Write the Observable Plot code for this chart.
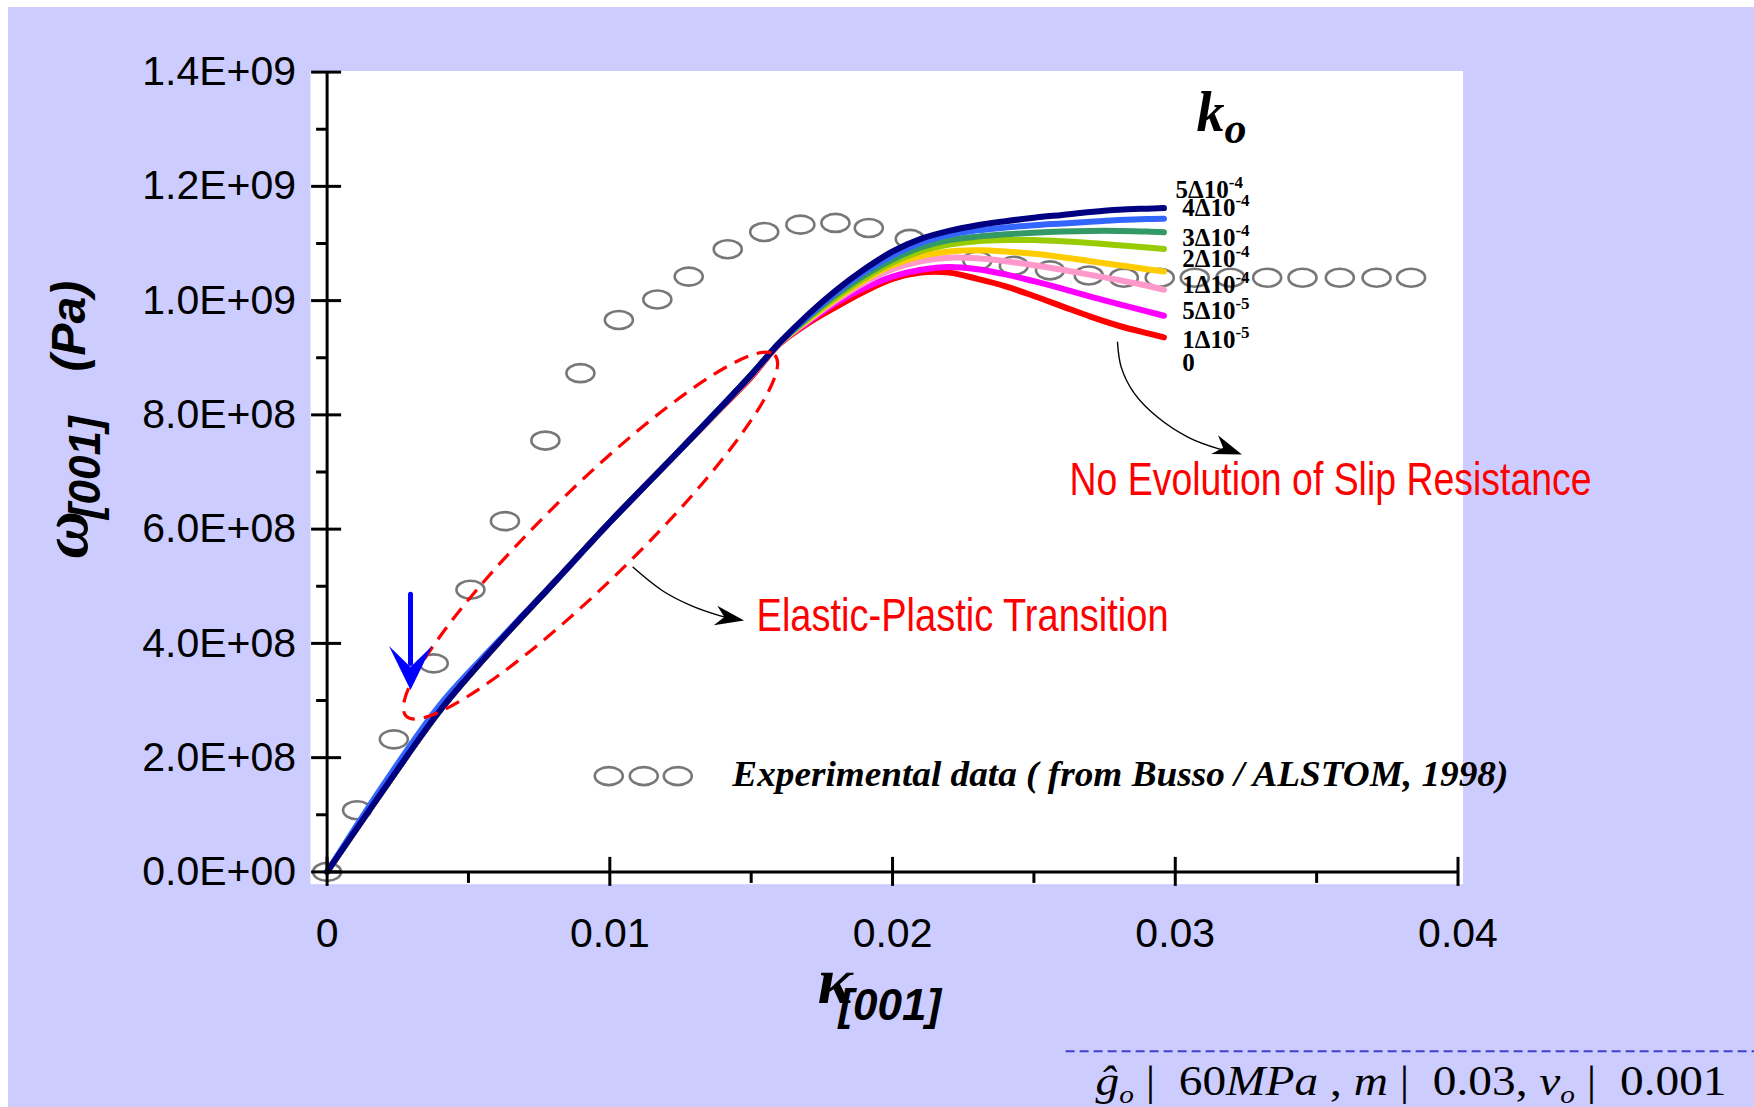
<!DOCTYPE html>
<html><head><meta charset="utf-8">
<script src="https://cdn.jsdelivr.net/npm/d3@7"></script>
<script src="https://cdn.jsdelivr.net/npm/@observablehq/plot@0.6"></script>
<style>
html,body{margin:0;padding:0;background:#fff;}
#chart{position:absolute;left:8px;top:7px;}
</style></head><body><div id="chart"></div>
<script>
// ---------- data (stress in GPa = 1e9 Pa) ----------
const strain = [0, 0.002, 0.004, 0.006, 0.008, 0.010, 0.012, 0.014, 0.015, 0.016, 0.017, 0.018, 0.019, 0.020, 0.021, 0.022, 0.023, 0.024, 0.025, 0.026, 0.027, 0.028, 0.029, 0.0296];
const k0Labels = ["0", "1Δ10-5", "5Δ10-5", "1Δ10-4", "2Δ10-4", "3Δ10-4", "4Δ10-4", "5Δ10-4"];
const k0Colors = ["#ff0000", "#ff00ff", "#ff99cc", "#ffcc00", "#99cc00", "#339966", "#3366ff", "#000080"];
const s_k0_0    = [0,0.144,0.283,0.398,0.505,0.612,0.714,0.815,0.866,0.924,0.960,0.989,1.016,1.038,1.049,1.049,1.038,1.025,1.008,0.990,0.972,0.956,0.943,0.9357];
const s_k0_1e5  = [0,0.144,0.283,0.398,0.505,0.612,0.714,0.816,0.868,0.925,0.962,0.996,1.022,1.042,1.054,1.059,1.055,1.046,1.034,1.021,1.007,0.994,0.981,0.9735];
const s_k0_5e5  = [0,0.144,0.283,0.398,0.505,0.612,0.714,0.816,0.869,0.925,0.964,1.000,1.031,1.055,1.069,1.075,1.074,1.069,1.062,1.054,1.045,1.036,1.026,1.019];
const s_k0_1e4  = [0,0.144,0.283,0.398,0.505,0.612,0.714,0.816,0.869,0.925,0.966,1.003,1.036,1.062,1.078,1.086,1.088,1.086,1.082,1.076,1.069,1.062,1.055,1.051];
const s_k0_2e4  = [0,0.144,0.283,0.398,0.505,0.612,0.714,0.817,0.870,0.926,0.968,1.006,1.039,1.066,1.086,1.098,1.104,1.106,1.106,1.104,1.101,1.097,1.093,1.0905];
const s_k0_3e4  = [0,0.144,0.283,0.398,0.505,0.612,0.714,0.817,0.870,0.926,0.970,1.010,1.044,1.072,1.093,1.106,1.112,1.116,1.119,1.121,1.122,1.122,1.121,1.1195];
const s_k0_4e4  = [0,0.153,0.293,0.401,0.505,0.612,0.714,0.817,0.870,0.926,0.972,1.014,1.050,1.079,1.101,1.115,1.123,1.128,1.132,1.135,1.138,1.141,1.143,1.1435];
const s_k0_5e4  = [0,0.144,0.283,0.398,0.505,0.612,0.714,0.817,0.870,0.926,0.975,1.018,1.055,1.086,1.108,1.122,1.132,1.139,1.145,1.150,1.155,1.159,1.161,1.162];

const expStrain = [0, 0.00106, 0.00236, 0.00377, 0.00507, 0.00629, 0.00772, 0.00896, 0.01032, 0.01168, 0.01279, 0.01417, 0.01546, 0.01674, 0.01798, 0.01916, 0.02061, 0.02300, 0.02429, 0.02557, 0.02694, 0.02818, 0.02945, 0.03069, 0.03195, 0.03325, 0.03450, 0.03582, 0.03712, 0.03834];
const expStress = [0, 0.108, 0.232, 0.365, 0.494, 0.614, 0.755, 0.873, 0.966, 1.002, 1.042, 1.090, 1.120, 1.133, 1.136, 1.127, 1.108, 1.070, 1.061, 1.053, 1.044, 1.040, 1.040, 1.040, 1.040, 1.040, 1.040, 1.040, 1.040, 1.040];

const xTicksMajor = [0, 0.01, 0.02, 0.03, 0.04];
const xTicksMinor = [0.005, 0.015, 0.025, 0.035];
const yTicksMajor = [0, 2e8, 4e8, 6e8, 8e8, 1.0e9, 1.2e9, 1.4e9];
const yTicksMinor = [1e8, 3e8, 5e8, 7e8, 9e8, 1.1e9, 1.3e9];

// curve-end labels (k_o values), positioned in data units
const lblX = [0.03001, 0.030245, 0.030245, 0.030245, 0.030245, 0.030245, 0.030245, 0.030245];
const lblY = [1.1802, 1.1487, 1.0962, 1.0595, 1.014, 0.9685, 0.9177, 0.8775];
const lblText = ["5Δ10-4", "4Δ10-4", "3Δ10-4", "2Δ10-4", "1Δ10-4", "5Δ10-5", "1Δ10-5", "0"];

// experimental legend symbols
const legStrain = [0.009963, 0.011201, 0.012404];
const legStress = [0.1677, 0.1677, 0.1677];

// annotation arrow paths (data units, GPa)
const arrow1X = [0.010823, 0.011863, 0.012874, 0.013879, 0.01440];
const arrow1Y = [0.5332, 0.4922, 0.4662, 0.4487, 0.4420];
const arrow2X = [0.027956, 0.02809, 0.028564, 0.029378, 0.03046, 0.031543, 0.03200];
const arrow2Y = [0.927, 0.8832, 0.8367, 0.7957, 0.7607, 0.7404, 0.7350];

// ---------- build tables ----------
const series = [s_k0_0, s_k0_1e5, s_k0_5e5, s_k0_1e4, s_k0_2e4, s_k0_3e4, s_k0_4e4, s_k0_5e4];
const curves = [];
series.forEach((vals, i) => vals.forEach((v, j) => curves.push({k: k0Labels[i], x: strain[j], y: v * 1e9})));
const exp = expStrain.map((x, i) => ({x, y: expStress[i] * 1e9}));
const leg = legStrain.map((x, i) => ({x, y: legStress[i] * 1e9}));
const labels = lblText.map((t, i) => ({x: lblX[i], y: lblY[i] * 1e9, t}));
const arrow1 = arrow1X.map((x, i) => ({x, y: arrow1Y[i] * 1e9}));
const arrow2 = arrow2X.map((x, i) => ({x, y: arrow2Y[i] * 1e9}));

// ---------- symbols ----------
function seg(x1, y1, x2, y2) { return {draw(ctx) { ctx.moveTo(x1, y1); ctx.lineTo(x2, y2); }}; }
function ellipseSym(rx, ry, deg = 0) {
  const t = deg * Math.PI / 180, c = Math.cos(t), s = Math.sin(t), k = 0.5523;
  const p = (x, y) => [x * c - y * s, x * s + y * c];
  return {draw(ctx) {
    ctx.moveTo(...p(rx, 0));
    ctx.bezierCurveTo(...p(rx, k * ry), ...p(k * rx, ry), ...p(0, ry));
    ctx.bezierCurveTo(...p(-k * rx, ry), ...p(-rx, k * ry), ...p(-rx, 0));
    ctx.bezierCurveTo(...p(-rx, -k * ry), ...p(-k * rx, -ry), ...p(0, -ry));
    ctx.bezierCurveTo(...p(k * rx, -ry), ...p(rx, -k * ry), ...p(rx, 0));
    ctx.closePath();
  }};
}
function stealth(deg, L, W, N) {
  const t = deg * Math.PI / 180, c = Math.cos(t), s = Math.sin(t);
  const p = (u, v) => [u * c - v * s, u * s + v * c];
  return {draw(ctx) {
    ctx.moveTo(0, 0);
    ctx.lineTo(...p(-L, W));
    ctx.lineTo(...p(-(L - N), 0));
    ctx.lineTo(...p(-L, -W));
    ctx.closePath();
  }};
}

const sans = "'Liberation Sans', Arial, sans-serif";
const narrow = "'Liberation Sans Narrow', 'Arial Narrow', 'Liberation Sans', Arial, sans-serif";
const serif = "'Liberation Serif', 'Times New Roman', serif";

function fmtE(v) {
  const [m, e] = v.toExponential(1).split("e");
  const n = +e;
  return m + "E" + (n < 0 ? "-" : "+") + String(Math.abs(n)).padStart(2, "0");
}

const plot = Plot.plot({
  width: 1746, height: 1100,
  marginLeft: 318.6, marginRight: 296.5, marginTop: 64.6, marginBottom: 235.6,
  x: {domain: [0, 0.04], label: null},
  y: {domain: [0, 1.4e9], label: null},
  color: {domain: k0Labels, range: k0Colors},
  style: {background: "#ccccff", fontFamily: sans, overflow: "visible", color: "black"},
  marks: [
    Plot.frame({fill: "white", stroke: null, insetLeft: -16.6, insetRight: -5, insetTop: -1.1, insetBottom: -12.3}),
    // experimental data
    Plot.dot(exp, {x: "x", y: "y", symbol: ellipseSym(14, 9), fill: "none", stroke: "#777777", strokeWidth: 2.6}),
    Plot.dot(leg, {x: "x", y: "y", symbol: ellipseSym(14, 9), fill: "none", stroke: "#777777", strokeWidth: 2.6}),
    // model curves
    Plot.line(curves, {x: "x", y: "y", z: "k", stroke: "k", strokeWidth: 6, strokeLinejoin: "round", strokeLinecap: "round", curve: "catmull-rom"}),
    // dashed ellipse
    Plot.dot([{x: 0.009316, y: 0.5887e9}], {x: "x", y: "y", symbol: ellipseSym(258, 46, -44.4), fill: "none", stroke: "#ff0000", strokeWidth: 3.2, strokeDasharray: "15,9"}),
    // axes lines & ticks
    Plot.ruleX([0], {y1: 0, y2: 1.4e9, stroke: "black", strokeWidth: 3}),
    Plot.ruleY([0], {x1: 0, x2: 0.04, stroke: "black", strokeWidth: 3}),
    Plot.dot(yTicksMajor, {x: () => 0, y: d => d, symbol: seg(-16, 0, 14, 0), fill: "none", stroke: "black", strokeWidth: 3}),
    Plot.dot(yTicksMinor, {x: () => 0, y: d => d, symbol: seg(-11, 0, 0, 0), fill: "none", stroke: "black", strokeWidth: 3}),
    Plot.dot(xTicksMajor, {x: d => d, y: () => 0, symbol: seg(0, -15, 0, 14), fill: "none", stroke: "black", strokeWidth: 3}),
    Plot.dot(xTicksMinor, {x: d => d, y: () => 0, symbol: seg(0, 0, 0, 11), fill: "none", stroke: "black", strokeWidth: 3}),
    Plot.axisY({ticks: yTicksMajor, tickSize: 0, tickPadding: 31, tickFormat: fmtE, fontSize: 41, fontFamily: sans, label: null}),
    Plot.axisX({ticks: xTicksMajor, tickSize: 0, tickPadding: 46, tickFormat: d => d === 0 ? "0" : String(d), fontSize: 41, fontFamily: sans, label: null}),
    // axis titles
    Plot.text([{x: -0.00851, y: 0.548e9}], {x: "x", y: "y", text: () => "ω[001](Pa)", rotate: -90, textAnchor: "start", lineAnchor: "bottom", fontFamily: serif, fontSize: 66, fontWeight: "bold", fontStyle: "italic"}),
    Plot.text([{x: 0.017345, y: -0.2303e9}], {x: "x", y: "y", text: () => "κ[001]", textAnchor: "start", lineAnchor: "bottom", fontFamily: serif, fontSize: 66, fontWeight: "bold", fontStyle: "italic"}),
    // k_o heading and curve labels
    Plot.text([{x: 0.03075, y: 1.2975e9}], {x: "x", y: "y", text: () => "ko", textAnchor: "start", lineAnchor: "bottom", fontFamily: serif, fontSize: 56, fontWeight: "bold", fontStyle: "italic"}),
    Plot.text(labels, {x: "x", y: "y", text: "t", textAnchor: "start", lineAnchor: "bottom", fontFamily: serif, fontSize: 25, fontWeight: "bold"}),
    // annotations
    Plot.text([{x: 0.014332, y: 0.1512e9}], {x: "x", y: "y", text: () => "Experimental data ( from Busso / ALSTOM, 1998)", textAnchor: "start", lineAnchor: "bottom", fontFamily: serif, fontSize: 35, fontWeight: "bold", fontStyle: "italic"}),
    Plot.text([{x: 0.01519, y: 0.4225e9}], {x: "x", y: "y", text: () => "Elastic-Plastic Transition", textAnchor: "start", lineAnchor: "bottom", fontFamily: narrow, fontSize: 46, fill: "#ff0000"}),
    Plot.text([{x: 0.02626, y: 0.6605e9}], {x: "x", y: "y", text: () => "No Evolution of Slip Resistance", textAnchor: "start", lineAnchor: "bottom", fontFamily: narrow, fontSize: 46, fill: "#ff0000"}),
    // arrows
    Plot.line(arrow1, {x: "x", y: "y", curve: "catmull-rom", stroke: "black", strokeWidth: 1.4}),
    Plot.dot([{x: 0.014749, y: 0.4400e9}], {x: "x", y: "y", symbol: stealth(10, 29, 10, 9), fill: "black", stroke: "none"}),
    Plot.line(arrow2, {x: "x", y: "y", curve: "catmull-rom", stroke: "black", strokeWidth: 1.4}),
    Plot.dot([{x: 0.032356, y: 0.7305e9}], {x: "x", y: "y", symbol: stealth(20, 29, 10, 9), fill: "black", stroke: "none"}),
    Plot.line([{x: 0.00295, y: 0.4858e9}, {x: 0.00295, y: 0.365e9}], {x: "x", y: "y", stroke: "#0000ff", strokeWidth: 5}),
    Plot.dot([{x: 0.00295, y: 0.3185e9}], {x: "x", y: "y", symbol: stealth(90, 44, 21.5, 21), fill: "#0000ff", stroke: "none"}),
    // parameter caption below the chart
    Plot.ruleY([-0.3138e9], {x1: 0.02614, x2: 0.0505, stroke: "#3f3fd0", strokeWidth: 2, strokeDasharray: "9,5"}),
    Plot.text([{x: 0.027178, y: -0.3913e9}], {x: "x", y: "y", text: () => "ĝo | 60MPa, m | 0.03, νo | 0.001", textAnchor: "start", lineAnchor: "bottom", fontFamily: serif, fontSize: 42})
  ]
});
document.getElementById("chart").appendChild(plot);

// ---------- rich text (sub/superscripts, mixed fonts) ----------
const NS = "http://www.w3.org/2000/svg";
function rich(plain, parts, len) {
  const els = [...plot.querySelectorAll("text")].filter(t => t.textContent === plain);
  for (const el of els) {
    while (el.firstChild) el.removeChild(el.firstChild);
    for (const p of parts) {
      const ts = document.createElementNS(NS, "tspan");
      ts.textContent = p.t;
      if (p.ff) ts.setAttribute("font-family", p.ff);
      if (p.fs) ts.setAttribute("font-size", p.fs);
      if (p.fw) ts.setAttribute("font-weight", p.fw);
      if (p.fst) ts.setAttribute("font-style", p.fst);
      if (p.dx) ts.setAttribute("dx", p.dx);
      if (p.dy) ts.setAttribute("dy", p.dy);
      el.appendChild(ts);
    }
    if (len) { el.setAttribute("textLength", len); el.setAttribute("lengthAdjust", "spacingAndGlyphs"); }
  }
}
function fit(plain, len) {
  [...plot.querySelectorAll("text")].filter(t => t.textContent === plain).forEach(el => {
    el.setAttribute("textLength", len); el.setAttribute("lengthAdjust", "spacingAndGlyphs");
  });
}
rich("ω[001](Pa)", [
  {t: "ω"},
  {t: "[001]", ff: sans, fs: 44, dx: -8, dy: 13},
  {t: "(Pa)", ff: sans, fs: 48, dx: 45, dy: -15}
]);
rich("κ[001]", [
  {t: "κ"},
  {t: "[001]", ff: sans, fs: 44, dx: -14, dy: 17}
]);
rich("ko", [{t: "k"}, {t: "o", fs: 44, dy: 12}]);
for (const t of lblText) {
  const m = t.match(/^(\dΔ10)(-\d)$/);
  if (m) rich(t, [{t: m[1]}, {t: m[2], fs: 17, dy: -10}]);
}
rich("ĝo | 60MPa, m | 0.03, νo | 0.001", [
  {t: "ĝ", fst: "italic"},
  {t: "o", fst: "italic", fs: 26, dy: 8},
  {t: " |  60", dy: -8},
  {t: "MPa", fst: "italic"},
  {t: " , "},
  {t: "m", fst: "italic"},
  {t: " |  0.03, "},
  {t: "ν", fst: "italic"},
  {t: "o", fst: "italic", fs: 26, dy: 8},
  {t: " |  0.001", dy: -8}
], 631);
fit("Experimental data ( from Busso / ALSTOM, 1998)", 776);
fit("Elastic-Plastic Transition", 412);
fit("No Evolution of Slip Resistance", 522);
</script></body></html>
